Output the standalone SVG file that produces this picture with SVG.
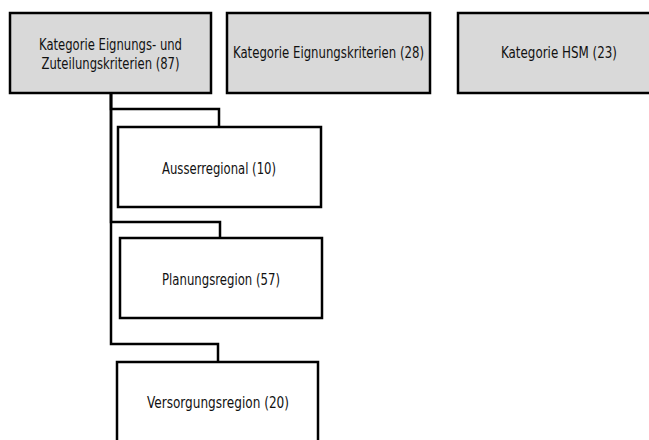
<svg xmlns="http://www.w3.org/2000/svg" width="649" height="440" viewBox="0 0 649 440">
<style>
.box{stroke:#000;stroke-width:2.5}
.grey{fill:#d9d9d9}
.white{fill:#fff}
.lbl{font-family:"DejaVu Sans Condensed","DejaVu Sans","Liberation Sans",sans-serif;font-stretch:condensed;font-size:15.5px;fill:#111;text-anchor:middle}
.conn{fill:none;stroke:#000;stroke-width:2.5}
</style>
<rect width="649" height="440" fill="#fff"/>
<g id="connectors">
<path class="conn" d="M111,93 V109 H219 V127"/>
<path class="conn" d="M111,93 V222 H220 V238"/>
<path class="conn" d="M111,93 V344 H218 V362"/>
</g>
<g id="n1">
<rect class="box grey" x="10" y="13" width="201" height="80"/>
<text class="lbl" x="110.5" y="50" textLength="143" lengthAdjust="spacingAndGlyphs">Kategorie Eignungs- und</text>
<text class="lbl" x="110.5" y="69" textLength="138" lengthAdjust="spacingAndGlyphs">Zuteilungskriterien (87)</text>
</g>
<g id="n2">
<rect class="box grey" x="227" y="13" width="203" height="80"/>
<text class="lbl" x="328.5" y="58" textLength="191" lengthAdjust="spacingAndGlyphs">Kategorie Eignungskriterien (28)</text>
</g>
<g id="n3">
<rect class="box grey" x="458" y="13" width="203" height="80"/>
<text class="lbl" x="559" y="58" textLength="116" lengthAdjust="spacingAndGlyphs">Kategorie HSM (23)</text>
</g>
<g id="n4">
<rect class="box white" x="118" y="127" width="203" height="80"/>
<text class="lbl" x="219" y="174" textLength="114" lengthAdjust="spacingAndGlyphs">Ausserregional (10)</text>
</g>
<g id="n5">
<rect class="box white" x="120" y="238" width="202" height="80"/>
<text class="lbl" x="221" y="285" textLength="118" lengthAdjust="spacingAndGlyphs">Planungsregion (57)</text>
</g>
<g id="n6">
<rect class="box white" x="117" y="362" width="201" height="80"/>
<text class="lbl" x="218" y="408" textLength="142" lengthAdjust="spacingAndGlyphs">Versorgungsregion (20)</text>
</g>
</svg>
